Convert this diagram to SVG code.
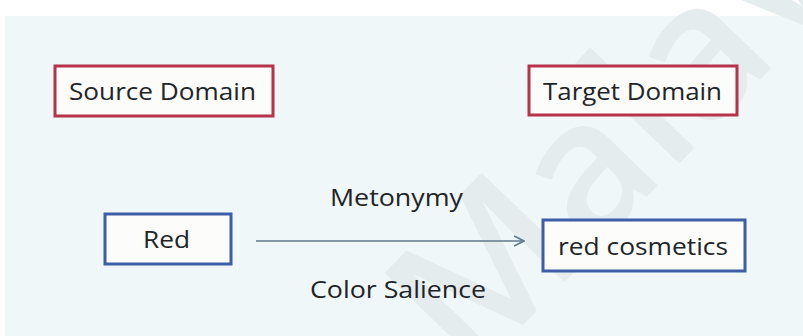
<svg xmlns="http://www.w3.org/2000/svg" width="803" height="336" viewBox="0 0 803 336">
  <style>
    .lbl { font-family: "Open Sans", "Liberation Sans", sans-serif; font-size: 24px; fill: #222428; }
    .domain { fill: #fcfcfa; stroke: #b8324a; stroke-width: 3; }
    .concept { fill: #fcfcfa; stroke: #3d5ea6; stroke-width: 3; }
    .link { stroke: #5f7a8c; stroke-width: 1.6; fill: none; }
    .mark { font-family: "Open Sans", "Liberation Sans", sans-serif; font-size: 190px; font-weight: 600; fill: #e4ecee; }
  </style>
  <defs>
    <marker id="chev" viewBox="0 0 12 12" refX="11" refY="6" markerWidth="12" markerHeight="12" markerUnits="userSpaceOnUse" orient="auto">
      <path d="M1,1 L11,6 L1,11" fill="none" stroke="#5f7a8c" stroke-width="1.6"/>
    </marker>
  </defs>

  <!-- canvas -->
  <rect x="0" y="0" width="803" height="336" fill="#ffffff"/>
  <rect x="5" y="16" width="798" height="320" fill="#eff7f9"/>

  <!-- faint watermark, running off the top-right corner -->
  <text class="mark" x="0" y="0" transform="translate(470,380) rotate(-46)">Malaya</text>

  <g id="source-domain">
    <rect class="domain" x="55" y="66" width="218" height="50"/>
    <text class="lbl" x="69" y="100" textLength="187" lengthAdjust="spacingAndGlyphs">Source Domain</text>
  </g>

  <g id="target-domain">
    <rect class="domain" x="529" y="66" width="208" height="49"/>
    <text class="lbl" x="543" y="100" textLength="179" lengthAdjust="spacingAndGlyphs">Target Domain</text>
  </g>

  <g id="red">
    <rect class="concept" x="105" y="214" width="126" height="50"/>
    <text class="lbl" x="143" y="248" textLength="47" lengthAdjust="spacingAndGlyphs">Red</text>
  </g>

  <g id="red-cosmetics">
    <rect class="concept" x="543" y="220" width="202" height="51"/>
    <text class="lbl" x="558" y="255" textLength="170" lengthAdjust="spacingAndGlyphs">red cosmetics</text>
  </g>

  <g id="connectors">
    <line class="link" x1="256" y1="241" x2="524" y2="241" marker-end="url(#chev)"/>
    <text class="lbl" x="330" y="206" textLength="133" lengthAdjust="spacingAndGlyphs">Metonymy</text>
    <text class="lbl" x="310" y="298" textLength="176" lengthAdjust="spacingAndGlyphs">Color Salience</text>
  </g>
</svg>
